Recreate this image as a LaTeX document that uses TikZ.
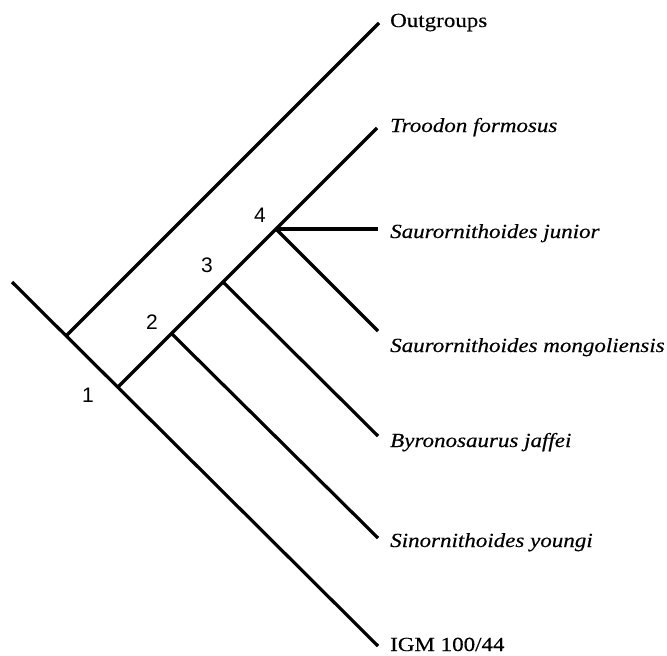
\documentclass[tikz,border=0pt]{standalone}
\usepackage{fontspec}
\setmainfont{Liberation Serif}[FakeStretch=1.15,FakeBold=0.4]
\newfontfamily\numfont{Liberation Sans}
\begin{document}
\begin{tikzpicture}[x=1pt,y=-1pt,
  branch/.style={line width=3.2pt},
  taxon/.style={anchor=base west, inner sep=0pt, font=\fontsize{20}{24}\selectfont},
  num/.style={inner sep=0pt, font=\numfont\fontsize{21}{25}\selectfont}]
\useasboundingbox (0,0) rectangle (667,656);
% junctions
\coordinate (root) at (12,282);
\coordinate (nO) at (66,336);
\coordinate (n1) at (118,387);
\coordinate (n2) at (172,334);
\coordinate (n3) at (223,282);
\coordinate (n4) at (276,229);
% tips
\coordinate (tOut) at (379,23);
\coordinate (tTro) at (377,128);
\coordinate (tJun) at (378,229);
\coordinate (tMon) at (378,331);
\coordinate (tByr) at (378,436);
\coordinate (tSin) at (378,538);
\coordinate (tIGM) at (378,646);
% branches
\draw[branch] (root) -- (tIGM);
\draw[branch] (nO) -- (tOut);
\draw[branch] (n1) -- (tTro);
\draw[branch] (n2) -- (tSin);
\draw[branch] (n3) -- (tByr);
\draw[branch] (n4) -- (tJun);
\draw[branch] (n4) -- (tMon);
% taxon labels
\node[taxon] (lOut) at (390,27) {Outgroups};
\node[taxon] (lTro) at (390,132) {\itshape Troodon formosus};
\node[taxon] (lJun) at (390,238) {\itshape Saurornithoides junior};
\node[taxon] (lMon) at (390,352) {\itshape Saurornithoides mongoliensis};
\node[taxon] (lByr) at (390,447) {\itshape Byronosaurus jaffei};
\node[taxon] (lSin) at (390,547) {\itshape Sinornithoides youngi};
\node[taxon] (lIGM) at (390,651) {IGM 100/44};
% node numbers
\node[num] (k1) at (88,395) {1};
\node[num] (k2) at (152,322) {2};
\node[num] (k3) at (207,265) {3};
\node[num] (k4) at (260,215) {4};
\end{tikzpicture}
\end{document}
